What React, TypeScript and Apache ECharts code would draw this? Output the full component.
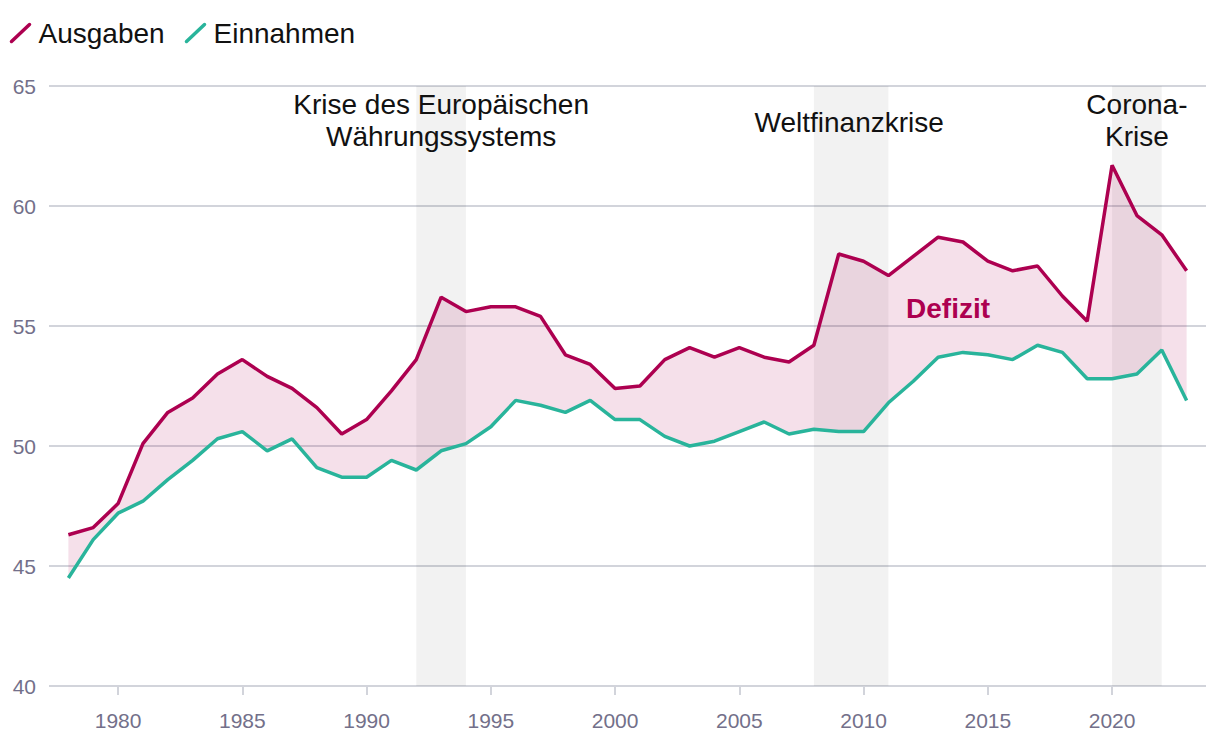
import React, { useEffect, useRef } from "react";
import * as echarts from "echarts";

const years = [1978, 1979, 1980, 1981, 1982, 1983, 1984, 1985, 1986, 1987, 1988, 1989, 1990, 1991, 1992, 1993, 1994, 1995, 1996, 1997, 1998, 1999, 2000, 2001, 2002, 2003, 2004, 2005, 2006, 2007, 2008, 2009, 2010, 2011, 2012, 2013, 2014, 2015, 2016, 2017, 2018, 2019, 2020, 2021, 2022, 2023];
const ausgaben = [46.3, 46.6, 47.6, 50.1, 51.4, 52.0, 53.0, 53.6, 52.9, 52.4, 51.6, 50.5, 51.1, 52.3, 53.6, 56.2, 55.6, 55.8, 55.8, 55.4, 53.8, 53.4, 52.4, 52.5, 53.6, 54.1, 53.7, 54.1, 53.7, 53.5, 54.2, 58.0, 57.7, 57.1, 57.9, 58.7, 58.5, 57.7, 57.3, 57.5, 56.25, 55.2, 61.7, 59.6, 58.8, 57.3];
const einnahmen = [44.5, 46.1, 47.2, 47.7, 48.6, 49.4, 50.3, 50.6, 49.8, 50.3, 49.1, 48.7, 48.7, 49.4, 49.0, 49.8, 50.1, 50.8, 51.9, 51.7, 51.4, 51.9, 51.1, 51.1, 50.4, 50.0, 50.2, 50.6, 51.0, 50.5, 50.7, 50.6, 50.6, 51.8, 52.7, 53.7, 53.9, 53.8, 53.6, 54.2, 53.9, 52.8, 52.8, 53.0, 54.0, 51.9];
const xTicks = [1980, 1985, 1990, 1995, 2000, 2005, 2010, 2015, 2020];
const crisisBands = [[1992, 1994], [2008, 2011], [2020, 2022]];
const crisisLabels = [["Krise des Europäischen", "Währungssystems"], ["Weltfinanzkrise"], ["Corona-", "Krise"]];
const seriesNames = ["Ausgaben", "Einnahmen"];
const gapLabel = "Defizit";
const gapLabelPos = [2013.4, 55.75];

const RED = "#ad0050";
const TEAL = "#29b49b";
const FONT = '"Liberation Sans", Arial, sans-serif';

export default function App() {
  const ref = useRef<HTMLDivElement>(null);
  useEffect(() => {
    document.body.style.margin = "0";
    const chart = echarts.init(ref.current!, null, { renderer: "svg" });
    const ausData = years.map((y, i) => [y, ausgaben[i]]);
    const einData = years.map((y, i) => [y, einnahmen[i]]);

    const graphics: any[] = [];
    const legendItems = [
      { name: seriesNames[0], color: RED, x: 10 },
      { name: seriesNames[1], color: TEAL, x: 185 },
    ];
    legendItems.forEach((l) => {
      graphics.push({
        type: "line",
        shape: { x1: l.x + 1.5, y1: 41.5, x2: l.x + 19.5, y2: 24.5 },
        style: { stroke: l.color, lineWidth: 3.5, lineCap: "round" },
      });
      graphics.push({
        type: "text",
        x: l.x + 28.5,
        y: 33.5,
        style: {
          text: l.name,
          font: `28px ${FONT}`,
          fill: "#111",
          align: "left",
          verticalAlign: "middle",
          textAlign: "left",
          textVerticalAlign: "middle",
        },
      });
    });

    chart.setOption({
      animation: false,
      grid: { left: 49, right: 14, top: 86, bottom: 58, containLabel: false, outerBoundsMode: "none" },
      xAxis: {
        type: "value",
        min: 1977.22,
        max: 2023.78,
        axisLine: { show: false },
        splitLine: { show: false },
        axisTick: {
          show: true,
          customValues: xTicks,
          length: 9,
          lineStyle: { color: "#d2d4db", width: 2 },
        },
        axisLabel: {
          customValues: xTicks,
          formatter: (v: number) => String(v),
          margin: 24,
          color: "#73708a",
          fontSize: 21,
          fontFamily: FONT,
        },
      },
      yAxis: {
        type: "value",
        min: 40,
        max: 65,
        interval: 5,
        axisLine: { show: false },
        axisTick: { show: false },
        axisLabel: { margin: 13, color: "#73708a", fontSize: 21, fontFamily: FONT },
        splitLine: { lineStyle: { color: "#d2d4db", width: 2 } },
      },
      graphic: graphics,
      series: [
        {
          type: "line",
          name: "bands",
          data: einData,
          symbol: "none",
          lineStyle: { opacity: 0 },
          silent: true,
          markArea: {
            silent: true,
            itemStyle: { color: "rgba(0,0,0,0.05)" },
            label: {
              show: true,
              position: "insideTop",
              distance: 0,
              offset: [0, 2],
              color: "#111",
              fontSize: 28,
              fontFamily: FONT,
              lineHeight: 32,
              align: "center",
            },
            data: crisisBands.map((b, i) => [
              {
                xAxis: b[0],
                name: crisisLabels[i].join("\n"),
                label: crisisLabels[i].length === 1 ? { offset: [-2, 20] } : undefined,
              },
              { xAxis: b[1] },
            ]),
          },
          markPoint: {
            symbol: "rect",
            symbolSize: 0,
            silent: true,
            label: {
              show: true,
              formatter: gapLabel,
              color: RED,
              fontSize: 28,
              fontWeight: "bold",
              fontFamily: FONT,
            },
            data: [{ coord: gapLabelPos }],
          },
        },
        {
          type: "custom",
          name: "gap",
          silent: true,
          data: [[years[0], ausgaben[0]]],
          encode: { x: 0, y: 1 },
          clip: true,
          renderItem: (params: any, api: any) => {
            const top = years.map((y, i) => api.coord([y, ausgaben[i]]));
            const bottom = years.map((y, i) => api.coord([y, einnahmen[i]])).reverse();
            return {
              type: "polygon",
              shape: { points: top.concat(bottom) },
              style: { fill: "rgba(176,0,79,0.12)" },
            };
          },
          z: 3,
        },
        {
          type: "line",
          name: seriesNames[0],
          data: ausData,
          symbol: "none",
          lineStyle: { color: RED, width: 3.5 },
          z: 5,
        },
        {
          type: "line",
          name: seriesNames[1],
          data: einData,
          symbol: "none",
          lineStyle: { color: TEAL, width: 3.5 },
          z: 5,
        },
      ],
    });
    return () => chart.dispose();
  }, []);
  return <div ref={ref} style={{ width: 1220, height: 744 }} />;
}
